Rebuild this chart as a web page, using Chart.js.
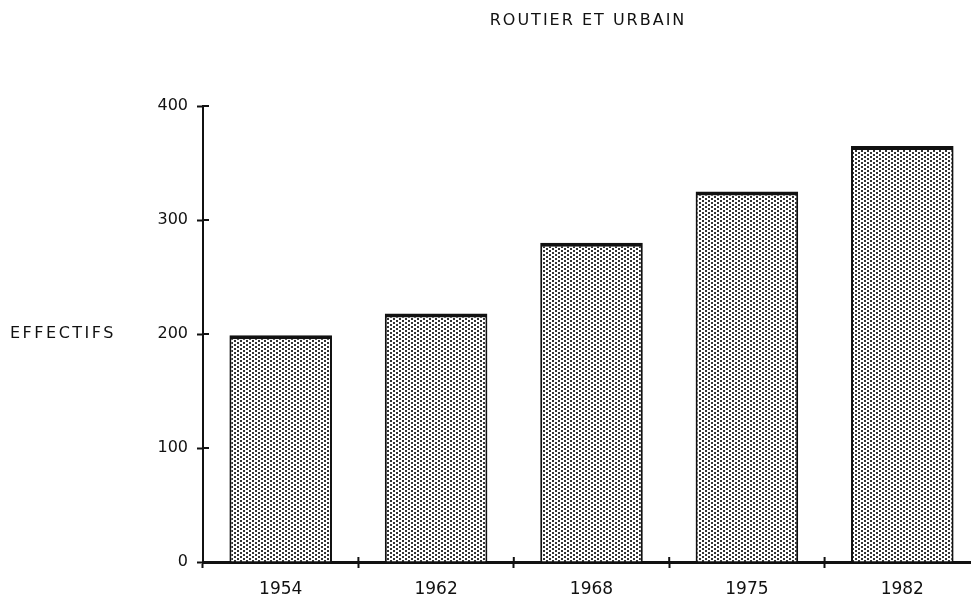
<!DOCTYPE html>
<html>
<head>
<meta charset="utf-8">
<script src="https://cdn.jsdelivr.net/npm/chart.js@4"></script>
<style>
  html, body { margin: 0; padding: 0; background: #fff; overflow: hidden; }
  canvas { display: block; }
</style>
</head>
<body>
<canvas id="chart" width="980" height="608"></canvas>
<script>
// données
const years = ['1954', '1962', '1968', '1975', '1982'];
const effectifs = [199, 218, 280, 325, 365];
const yTicks = [0, 100, 200, 300, 400];
const chartTitle = 'ROUTIER ET URBAIN';
const yLabel = 'EFFECTIFS';

const ink = '#111';
const font = 'DejaVu Sans';

// trame pointillée des barres
function dotPattern() {
    const c = document.createElement('canvas');
    c.width = 6; c.height = 4;
    const g = c.getContext('2d');
    g.fillStyle = '#fff';
    g.fillRect(0, 0, 6, 4);
    g.fillStyle = '#333';
    g.fillRect(0, 0, 2, 2);
    g.fillRect(3, 2, 2, 2);
    return g.createPattern(c, 'repeat');
}

// titre, libellé horizontal de l'axe et petites graduations qui croisent les axes
const textesPlugin = {
    id: 'textes',
    afterDraw(chart) {
        const ctx = chart.ctx;
        const y = chart.scales.y;
        const x = chart.scales.x;
        ctx.save();
        ctx.fillStyle = ink;
        ctx.font = '16px "' + font + '"';
        ctx.textBaseline = 'middle';
        ctx.letterSpacing = '2px';
        ctx.textAlign = 'center';
        ctx.fillText(chartTitle, 588, 21);
        ctx.letterSpacing = '2.5px';
        ctx.textAlign = 'left';
        ctx.fillText(yLabel, 10, y.getPixelForValue(200));

        ctx.strokeStyle = ink;
        ctx.lineWidth = 2;
        const left = chart.chartArea.left;
        yTicks.forEach(v => {
            const py = y.getPixelForValue(v);
            ctx.beginPath();
            ctx.moveTo(left, py);
            ctx.lineTo(left + 6, py);
            ctx.stroke();
        });
        const bottom = chart.chartArea.bottom;
        for (let i = 1; i < years.length; i++) {
            const px = (x.getPixelForValue(i - 1) + x.getPixelForValue(i)) / 2;
            ctx.beginPath();
            ctx.moveTo(px, bottom - 5);
            ctx.lineTo(px, bottom);
            ctx.stroke();
        }
        ctx.restore();
    }
};

const ctx = document.getElementById('chart').getContext('2d');

const chart = new Chart(ctx, {
    type: 'bar',
    data: {
        labels: years,
        datasets: [{
            label: yLabel,
            data: effectifs,
            backgroundColor: dotPattern(),
            borderColor: ink,
            borderWidth: { top: 4, left: 2, right: 2, bottom: 0 },
            categoryPercentage: 1,
            barPercentage: 0.66
        }]
    },
    options: {
        responsive: false,
        animation: false,
        layout: { padding: { top: 106, right: 0, bottom: 0, left: 0 } },
        plugins: {
            legend: { display: false },
            title: { display: false },
            tooltip: { enabled: false }
        },
        scales: {
            x: {
                grid: {
                    display: true,
                    drawOnChartArea: false,
                    drawTicks: true,
                    tickLength: 6,
                    tickWidth: 2,
                    tickColor: ink
                },
                border: { display: true, color: ink, width: 3 },
                ticks: {
                    color: ink,
                    font: { family: font, size: 17 },
                    padding: 11,
                    maxRotation: 0
                },
                afterFit: s => { s.height = 46; }
            },
            y: {
                min: 0,
                max: 400,
                afterBuildTicks: s => { s.ticks = yTicks.map(v => ({ value: v })); },
                grid: {
                    display: true,
                    drawOnChartArea: false,
                    drawTicks: true,
                    tickLength: 6,
                    tickWidth: 2,
                    tickColor: ink
                },
                border: { display: true, color: ink, width: 2, dash: [6, 3] },
                ticks: {
                    color: ink,
                    font: { family: font, size: 16 },
                    padding: 9
                },
                afterFit: s => { s.width = 203; }
            }
        }
    },
    plugins: [textesPlugin]
});
</script>
</body>
</html>
